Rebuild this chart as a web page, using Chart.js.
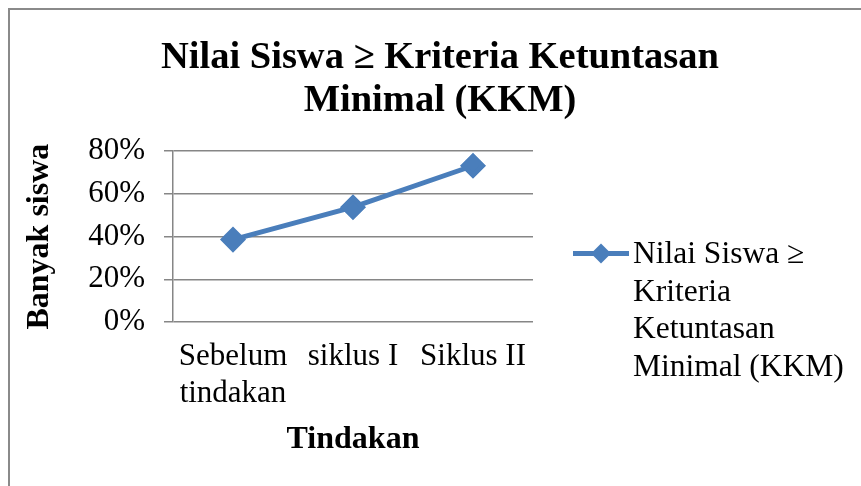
<!DOCTYPE html>
<html>
<head>
<meta charset="utf-8">
<script src="https://cdn.jsdelivr.net/npm/chart.js@4"></script>
<style>
  html, body { margin: 0; padding: 0; background: #fff; }
  #wrap { width: 861px; height: 486px; }
</style>
</head>
<body>
<div id="wrap"><canvas id="kkmChart"></canvas></div>
<script>
const categories = [['Sebelum', 'tindakan'], 'siklus I', 'Siklus II'];
const persenTuntas = [38.6, 53.8, 73.2];
const yTicks = [0, 20, 40, 60, 80];
const seriesLabel = 'Nilai Siswa ≥ Kriteria Ketuntasan Minimal (KKM)';

const serif = "'Liberation Serif', 'Times New Roman', serif";
const blue = '#4a7ebb';
const grey = '#868686';

// frame round the whole chart, like the Word/Excel chart box
const framePlugin = {
  id: 'frame',
  beforeDraw(chart) {
    const ctx = chart.ctx;
    ctx.save();
    ctx.fillStyle = '#fff';
    ctx.fillRect(0, 0, chart.width, chart.height);
    ctx.strokeStyle = '#8a8a8a';
    ctx.lineWidth = 2;
    ctx.strokeRect(9, 9, 900, 600);
    ctx.restore();
  }
};

// legend on the right, text wrapped like in the original
const sideLegend = {
  id: 'sideLegend',
  afterDraw(chart) {
    const ctx = chart.ctx;
    const ds = chart.data.datasets[0];
    const area = chart.chartArea;
    const x0 = area.right + 40;
    const y0 = (area.top + area.bottom) / 2 + 17;
    ctx.save();
    ctx.strokeStyle = ds.borderColor;
    ctx.lineWidth = 5;
    ctx.beginPath();
    ctx.moveTo(x0, y0);
    ctx.lineTo(x0 + 56, y0);
    ctx.stroke();
    ctx.fillStyle = ds.borderColor;
    ctx.beginPath();
    const cx = x0 + 28, r = 10;
    ctx.moveTo(cx, y0 - r);
    ctx.lineTo(cx + r, y0);
    ctx.lineTo(cx, y0 + r);
    ctx.lineTo(cx - r, y0);
    ctx.closePath();
    ctx.fill();

    ctx.font = '31.5px ' + serif;
    ctx.fillStyle = '#000';
    ctx.textBaseline = 'middle';
    const words = ds.label.split(' ');
    const lines = [];
    let cur = '';
    words.forEach(w => {
      const test = cur ? cur + ' ' + w : w;
      if (ctx.measureText(test).width > 222 && cur) {
        lines.push(cur);
        cur = w;
      } else {
        cur = test;
      }
    });
    lines.push(cur);
    lines.forEach((ln, i) => ctx.fillText(ln, x0 + 60, y0 + 1 + i * 37.8));
    ctx.restore();
  }
};

new Chart(document.getElementById('kkmChart'), {
  type: 'line',
  data: {
    labels: categories,
    datasets: [{
      label: seriesLabel,
      data: persenTuntas,
      borderColor: blue,
      backgroundColor: blue,
      borderWidth: 5,
      pointStyle: 'rectRot',
      pointRadius: 9.5,
      pointHoverRadius: 9.5,
      fill: false,
      tension: 0
    }]
  },
  options: {
    responsive: true,
    maintainAspectRatio: false,
    animation: false,
    layout: { padding: { left: 19, right: 0, top: 0, bottom: 0 } },
    plugins: {
      legend: { display: false },
      tooltip: { enabled: false },
      title: {
        display: true,
        text: ['Nilai Siswa ≥ Kriteria Ketuntasan', 'Minimal (KKM)'],
        color: '#000',
        font: { family: serif, size: 38.5, weight: 'bold', lineHeight: 1.12 },
        padding: { top: 36, bottom: 29 }
      }
    },
    scales: {
      x: {
        offset: true,
        grid: { display: false, drawTicks: false },
        border: { display: false },
        ticks: {
          color: '#000',
          font: { family: serif, size: 31 },
          padding: 16,
          maxRotation: 0,
          autoSkip: false
        },
        title: {
          display: true,
          text: 'Tindakan',
          color: '#000',
          font: { family: serif, size: 32, weight: 'bold' },
          padding: { top: 8, bottom: 27 }
        },
        afterFit(scale) { scale.height = 164; }
      },
      y: {
        min: 0,
        max: 80,
        afterBuildTicks(scale) { scale.ticks = yTicks.map(v => ({ value: v })); },
        grid: { color: grey, lineWidth: 1.5, tickLength: 9 },
        border: { display: true, color: grey, width: 1.5 },
        ticks: {
          color: '#000',
          font: { family: serif, size: 31 },
          padding: 19,
          callback: v => v + '%'
        },
        title: {
          display: true,
          text: 'Banyak siswa',
          color: '#000',
          font: { family: serif, size: 32, weight: 'bold' },
          padding: { top: 2, bottom: 8 }
        },
        afterFit(scale) { scale.width = 154; }
      },
      // empty box on the right that keeps room for the legend
      legendSpace: {
        type: 'linear',
        position: 'right',
        grid: { display: false, drawTicks: false },
        border: { display: false },
        ticks: { display: false },
        afterFit(scale) { scale.width = 328; }
      }
    }
  },
  plugins: [framePlugin, sideLegend]
});
</script>
</body>
</html>
